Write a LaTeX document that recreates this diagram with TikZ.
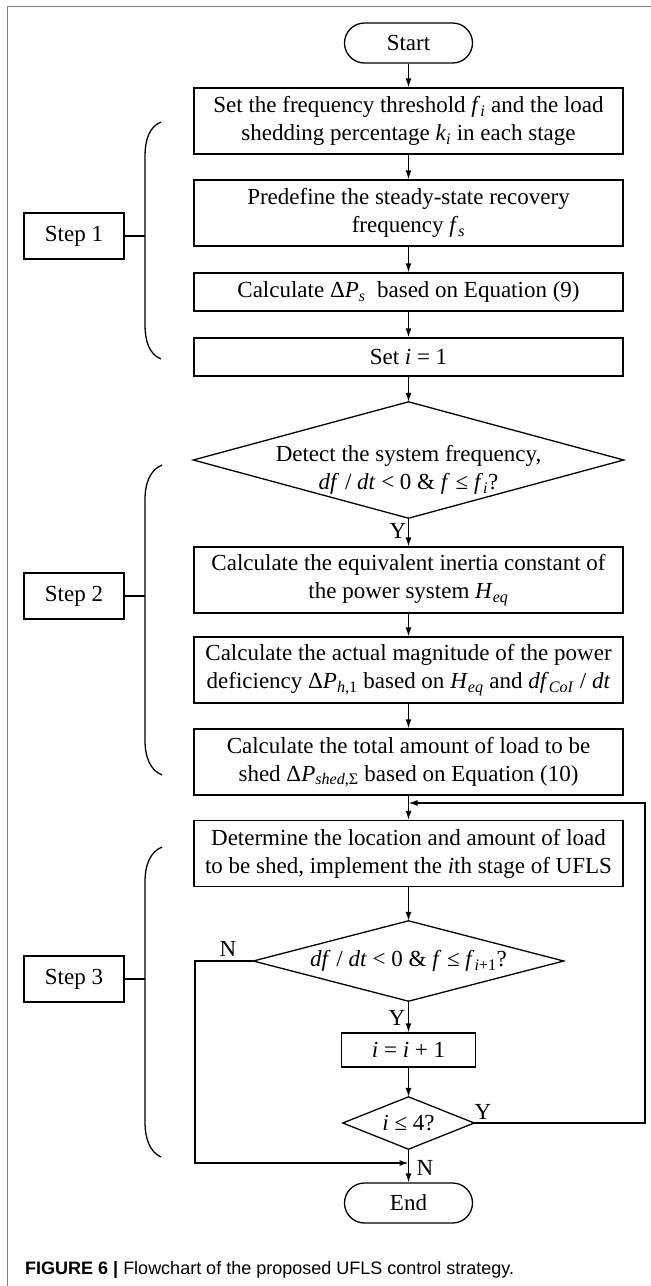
\documentclass[tikz,border=0pt]{standalone}
\usepackage{fontspec}
\setmainfont{Liberation Serif}
\newfontfamily\capfont{Liberation Sans}
\usetikzlibrary{arrows.meta}
\newcommand{\vr}[1]{\textit{#1}}
\newcommand{\sbs}[1]{\textsubscript{#1}}
\begin{document}
\begin{tikzpicture}[x=1pt,y=-1pt,
  every node/.style={font=\fontsize{23}{28}\selectfont},
  box/.style={draw, line width=1.3pt, minimum width=429pt, minimum height=66pt, align=center, inner sep=0pt},
  sbox/.style={box, minimum height=38pt},
  term/.style={draw, line width=1.3pt, rounded corners=20pt, minimum width=128pt, minimum height=40pt, inner sep=0pt},
  dia/.style={inner sep=0pt, align=center},
  stepbox/.style={draw, line width=1.3pt, minimum width=100pt, minimum height=46pt, inner sep=0pt},
  ln/.style={line width=1.3pt},
  arr/.style={ln, -{Latex[length=9pt,width=6pt]}},
  lab/.style={inner sep=0pt},
  frame/.style={line width=1.4pt, draw=black!50}
]
\useasboundingbox (0,0) rectangle (651,1286);
\draw[frame] (7.5,1286) -- (7.5,6.5) -- (651,6.5);

% main column
\node[term] (start) at (408.5,43) {Start};
\node[box] (set) at (408.5,121) {Set the frequency threshold \vr{f}\sbs{\vr{i}} and the load\\shedding percentage \vr{k}\sbs{\vr{i}} in each stage};
\node[box] (pre) at (408.5,213) {Predefine the steady-state recovery\\frequency \vr{f}\sbs{\vr{s}}};
\node[sbox] (dps) at (408.5,292) {Calculate Δ\vr{P}\sbs{\vr{s}}~ based on Equation (9)};
\node[sbox] (seti) at (408.5,357) {Set \vr{i} = 1};
\node[dia, minimum width=430pt, minimum height=116pt] (d1) at (408.5,460) {};
\node[dia] (d1t) at (408.5,470) {Detect the system frequency,\\\vr{df} / \vr{dt} < 0 \& \vr{f} ≤ \vr{f}\sbs{\vr{i}}?};
\draw[ln] (d1.north) -- (d1.east) -- (d1.south) -- (d1.west) -- cycle;
\node[box] (eq) at (408.5,580) {Calculate the equivalent inertia constant of\\the power system \vr{H}\sbs{\vr{eq}}};
\node[box] (act) at (408.5,670) {Calculate the actual magnitude of the power\\deficiency Δ\vr{P}\sbs{\vr{h},1} based on \vr{H}\sbs{\vr{eq}} and \vr{df}\sbs{\vr{CoI}} / \vr{dt}};
\node[box] (tot) at (408.5,762) {Calculate the total amount of load to be\\shed Δ\vr{P}\sbs{\vr{shed},Σ} based on Equation (10)};
\node[box] (det) at (408.5,853.5) {Determine the location and amount of load\\to be shed, implement the \vr{i}th stage of UFLS};
\node[dia, minimum width=310pt, minimum height=80pt] (d2) at (408.5,961) {\vr{df} / \vr{dt} < 0 \& \vr{f} ≤ \vr{f}\sbs{\vr{i}+1}?};
\draw[ln] (d2.north) -- (d2.east) -- (d2.south) -- (d2.west) -- cycle;
\node[box, minimum width=134pt, minimum height=34pt] (inc) at (408.5,1050) {\vr{i} = \vr{i} + 1};
\node[dia, minimum width=131pt, minimum height=52pt] (d3) at (408.5,1123) {\vr{i} ≤ 4?};
\draw[ln] (d3.north) -- (d3.east) -- (d3.south) -- (d3.west) -- cycle;
\node[term] (end) at (408.5,1203) {End};

% connectors
\draw[arr] (start) -- (set);
\draw[arr] (set) -- (pre);
\draw[arr] (pre) -- (dps);
\draw[arr] (dps) -- (seti);
\draw[arr] (seti) -- (d1.north);
\draw[arr] (d1.south) -- (eq);
\draw[arr] (eq) -- (act);
\draw[arr] (act) -- (tot);
\draw[arr] (tot) -- (det);
\draw[arr] (det) -- (d2.north);
\draw[arr] (d2.south) -- (inc);
\draw[arr] (inc) -- (d3.north);
\draw[arr] (d3.south) -- (end);

\coordinate (m1) at (408.5,803);
\coordinate (m2) at (408.5,1163);
\coordinate (r1) at (645,1123);
\coordinate (r2) at (645,803);
\coordinate (l1) at (195,961);
\coordinate (l2) at (195,1163);
\draw[arr] (d3.east) -- (r1) -- (r2) -- (m1);
\draw[arr] (d2.west) -- (l1) -- (l2) -- (m2);

% branch labels
\node[lab] (y1) at (398,531) {Y};
\node[lab] (y2) at (397,1018) {Y};
\node[lab] (y3) at (483,1112) {Y};
\node[lab] (n1) at (228,949) {N};
\node[lab] (n2) at (425,1168) {N};

% steps
\node[stepbox] (s1) at (74,236) {Step 1};
\node[stepbox] (s2) at (74,596) {Step 2};
\node[stepbox] (s3) at (74,979) {Step 3};
\draw[ln] (161,122) .. controls (149,127) and (145,140) .. (145,157) -- (145,324) .. controls (145,341) and (149,354) .. (161,359);
\draw[ln] (162,465) .. controls (150,470) and (145,483) .. (145,500) -- (145,740) .. controls (145,757) and (150,770) .. (162,775);
\draw[ln] (162,847) .. controls (150,852) and (145,865) .. (145,882) -- (145,1122) .. controls (145,1139) and (150,1152) .. (161,1157);
\coordinate (b1) at (145,236);
\coordinate (b2) at (145,596);
\coordinate (b3) at (145,979);
\draw[ln] (s1.east) -- (b1);
\draw[ln] (s2.east) -- (b2);
\draw[ln] (s3.east) -- (b3);

% caption
\node[anchor=west, inner sep=0pt, font=\capfont\fontsize{18}{20}\selectfont] (cap) at (25,1270) {\textbf{FIGURE 6 |} Flowchart of the proposed UFLS control strategy.};
\end{tikzpicture}
\end{document}
